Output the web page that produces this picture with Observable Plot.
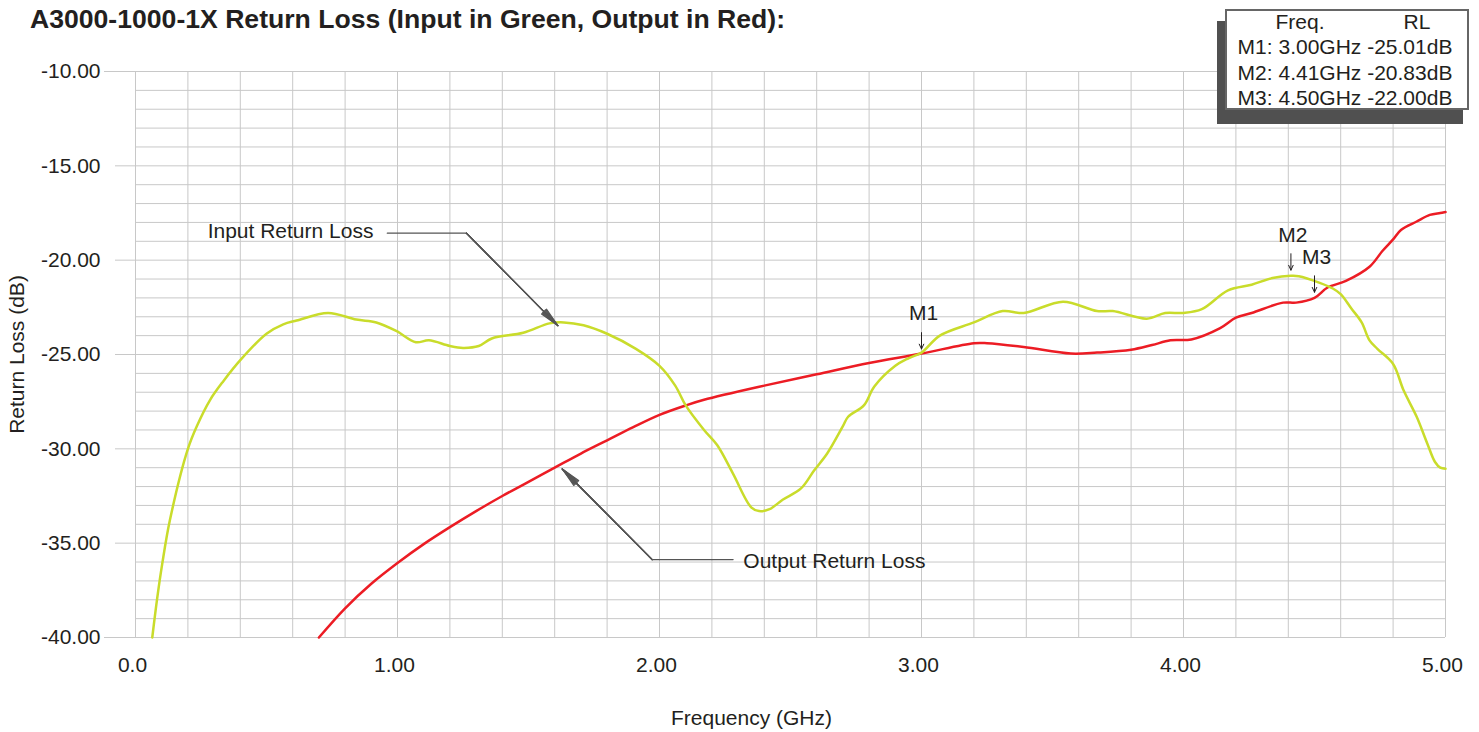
<!DOCTYPE html>
<html><head><meta charset="utf-8">
<script src="https://cdn.jsdelivr.net/npm/d3@7"></script>
<script src="https://cdn.jsdelivr.net/npm/@observablehq/plot@0.6"></script>
<style>
body{margin:0;background:#fff;font-family:"Liberation Sans",Arial,sans-serif;color:#231f20;}
#wrap{position:relative;width:1479px;height:732px;overflow:hidden;}
#title{position:absolute;left:30px;top:3px;font-weight:bold;font-size:26.6px;line-height:32px;white-space:nowrap;}
#chart{position:absolute;left:0;top:40px;}
#box{position:absolute;left:1225px;top:9px;width:240px;height:97px;border:2px solid #666;background:#fff;box-shadow:-7px 13px 0 1px #505050;}
#legend{position:absolute;left:1225px;top:9px;width:240px;font-size:21px;line-height:25.4px;}
#legend .row{text-align:center;white-space:nowrap;position:relative;height:25.4px;}
#legend .hdr span{position:absolute;transform:translateX(-50%);}
</style></head><body>
<div id="wrap">
<div id="chart"></div>
<div id="box"></div>
<div id="legend"></div>
<div id="title"></div>
</div>
<script>
const titleText = "A3000-1000-1X Return Loss (Input in Green, Output in Red):";
const xLabel = "Frequency (GHz)";
const yLabel = "Return Loss (dB)";

const inputFreq = [0.064,0.083,0.102,0.131,0.2,0.234,0.285,0.336,0.4,0.5,0.564,0.615,0.735,0.843,0.919,0.995,1.07,1.12,1.2,1.25,1.31,1.36,1.48,1.58,1.635,1.71,1.8,1.91,2.0,2.06,2.1,2.17,2.22,2.28,2.35,2.38,2.42,2.47,2.54,2.59,2.64,2.7,2.72,2.78,2.82,2.9,2.95,3.0,3.07,3.2,3.31,3.39,3.54,3.67,3.73,3.86,3.93,4.0,4.07,4.17,4.26,4.34,4.41,4.44,4.52,4.57,4.6,4.64,4.68,4.71,4.74,4.8,4.84,4.89,4.93,4.96,4.98,5.0];
const inputRL = [-40,-37.9,-36.1,-33.8,-30.0,-28.8,-27.4,-26.4,-25.3,-23.9,-23.4,-23.2,-22.8,-23.15,-23.3,-23.75,-24.35,-24.25,-24.55,-24.65,-24.55,-24.15,-23.85,-23.35,-23.3,-23.45,-23.9,-24.7,-25.6,-26.65,-27.7,-29.0,-29.8,-31.3,-33.1,-33.3,-33.2,-32.7,-32.1,-31.15,-30.25,-28.8,-28.3,-27.7,-26.7,-25.6,-25.2,-24.9,-24.0,-23.3,-22.7,-22.8,-22.2,-22.7,-22.7,-23.1,-22.8,-22.8,-22.6,-21.6,-21.3,-20.95,-20.83,-20.85,-21.2,-21.5,-21.8,-22.55,-23.3,-24.25,-24.7,-25.5,-26.9,-28.3,-29.7,-30.7,-31.0,-31.05];

const outputFreq = [0.70,0.8,0.9,1.0,1.1,1.2,1.3,1.4,1.5,1.6,1.7,1.8,1.9,2.0,2.1,2.17,2.4,2.6,2.8,3.0,3.2,3.25,3.39,3.57,3.67,3.8,3.88,3.95,4.03,4.14,4.2,4.26,4.38,4.43,4.5,4.55,4.62,4.71,4.76,4.8,4.83,4.89,4.94,4.98,5.0];
const outputRL = [-40,-38.45,-37.15,-36.05,-35.05,-34.15,-33.3,-32.5,-31.75,-31.0,-30.25,-29.55,-28.85,-28.2,-27.7,-27.4,-26.65,-26.05,-25.45,-24.95,-24.4,-24.4,-24.6,-24.95,-24.9,-24.75,-24.5,-24.25,-24.2,-23.6,-23.05,-22.8,-22.25,-22.25,-22.0,-21.45,-21.1,-20.35,-19.5,-18.9,-18.4,-17.95,-17.6,-17.5,-17.45];

const markerNames = ["M1","M2","M3"];
const markerFreq = [3.00, 4.41, 4.50];
const markerRL = [-25.01, -20.83, -22.00];

const xTicks = [0,1,2,3,4,5];
const yTicks = [-10,-15,-20,-25,-30,-35,-40];

const annoText = ["Input Return Loss", "Output Return Loss"];
const annoTextFreq = [0.908, 2.32];
const annoTextRL = [-18.48, -35.98];
const leaderFreq = [[0.961, 1.263, 1.612], [2.281, 1.972, 1.629]];
const leaderRL = [[-18.57, -18.57, -23.47], [-35.87, -35.87, -31.07]];

const green = "#c9dc2b", red = "#ec1c24", grid = "#c8c8c8", ink = "#231f20", leader = "#555";

document.getElementById("title").textContent = titleText;

// legend table
const leg = document.getElementById("legend");
const hdr = document.createElement("div");
hdr.className = "row hdr";
hdr.innerHTML = '<span style="left:75px">Freq.</span><span style="left:192px">RL</span>';
leg.appendChild(hdr);
markerNames.forEach((m, i) => {
  const r = document.createElement("div");
  r.className = "row";
  r.textContent = `${m}: ${markerFreq[i].toFixed(2)}GHz ${markerRL[i].toFixed(2)}dB`;
  leg.appendChild(r);
});

const inputData = inputFreq.map((f, i) => ({f, rl: inputRL[i]}));
const outputData = outputFreq.map((f, i) => ({f, rl: outputRL[i]}));
const markers = markerNames.map((name, i) => ({name, f: markerFreq[i], rl: markerRL[i]}));
const annos = annoText.map((t, i) => ({t, f: annoTextFreq[i], rl: annoTextRL[i]}));
const leaderPts = leaderFreq.flatMap((fs, k) => fs.map((f, j) => ({k, f, rl: leaderRL[k][j]})));
const heads = leaderFreq.map((fs, k) => ({f1: fs[1], rl1: leaderRL[k][1], f2: fs[2], rl2: leaderRL[k][2]}));

const xGrid = d3.range(0, 26).map(i => i / 5);
const yGrid = d3.range(-40, -9, 1);

const headMarks = [20, 15, 10, 5, 1].map(a => Plot.arrow(heads, {
  x1: "f1", y1: "rl1", x2: "f2", y2: "rl2",
  stroke: leader, strokeWidth: 1.2, headLength: 25, headAngle: a
}));

const chart = Plot.plot({
  width: 1479, height: 692,
  marginLeft: 135, marginRight: 34, marginTop: 31, marginBottom: 95,
  x: {domain: [0, 5]},
  y: {domain: [-40, -10]},
  style: {fontFamily: '"Liberation Sans", Arial, sans-serif', fontSize: "21px", color: ink, background: "#fff", overflow: "visible"},
  marks: [
    Plot.gridX(xGrid, {stroke: grid, strokeOpacity: 1, strokeWidth: 1}),
    Plot.gridY(yGrid, {stroke: grid, strokeOpacity: 1, strokeWidth: 1}),
    Plot.axisY(yTicks.filter(d => d !== -10 && d !== -40), {tickSize: 20, tickFormat: () => "", stroke: grid, label: null}),
    Plot.axisY([-10, -40], {tickSize: 31, tickFormat: () => "", stroke: grid, label: null}),
    Plot.axisY(yTicks, {tickSize: 0, tickPadding: 35, tickFormat: d => d.toFixed(2), label: null, fill: ink, fontSize: 21}),
    Plot.axisX(xTicks, {tickSize: 0, tickPadding: 20, dx: -3, tickFormat: d => d === 0 ? "0.0" : d.toFixed(2), label: null, fill: ink, fontSize: 21}),
    Plot.text([yLabel], {text: d => d, frameAnchor: "left", rotate: -90, dx: -118, textAnchor: "middle", lineAnchor: "middle", fill: ink, fontSize: 21}),
    Plot.text([xLabel], {text: d => d, frameAnchor: "bottom", dx: -39, dy: 81, textAnchor: "middle", lineAnchor: "middle", fill: ink, fontSize: 21}),
    Plot.line(outputData, {x: "f", y: "rl", stroke: red, strokeWidth: 2.5, curve: "catmull-rom"}),
    Plot.line(inputData, {x: "f", y: "rl", stroke: green, strokeWidth: 2.5, curve: "catmull-rom"}),
    Plot.line(leaderPts, {x: "f", y: "rl", z: "k", stroke: leader, strokeWidth: 1.2}),
    ...headMarks,
    Plot.text(annos.slice(0, 1), {x: "f", y: "rl", text: "t", textAnchor: "end", lineAnchor: "middle", fill: ink, fontSize: 21}),
    Plot.text(annos.slice(1), {x: "f", y: "rl", text: "t", textAnchor: "start", lineAnchor: "middle", fill: ink, fontSize: 21}),
    Plot.arrow(markers, {x1: "f", x2: "f", y1: d => d.rl + 1.17, y2: d => d.rl + 0.3, stroke: ink, strokeWidth: 1, headLength: 8, headAngle: 50}),
    Plot.text(markers, {x: "f", y: "rl", text: "name", dx: 2, dy: -41, lineAnchor: "middle", fill: ink, fontSize: 21})
  ]
});
document.getElementById("chart").appendChild(chart);
</script>
</body></html>
